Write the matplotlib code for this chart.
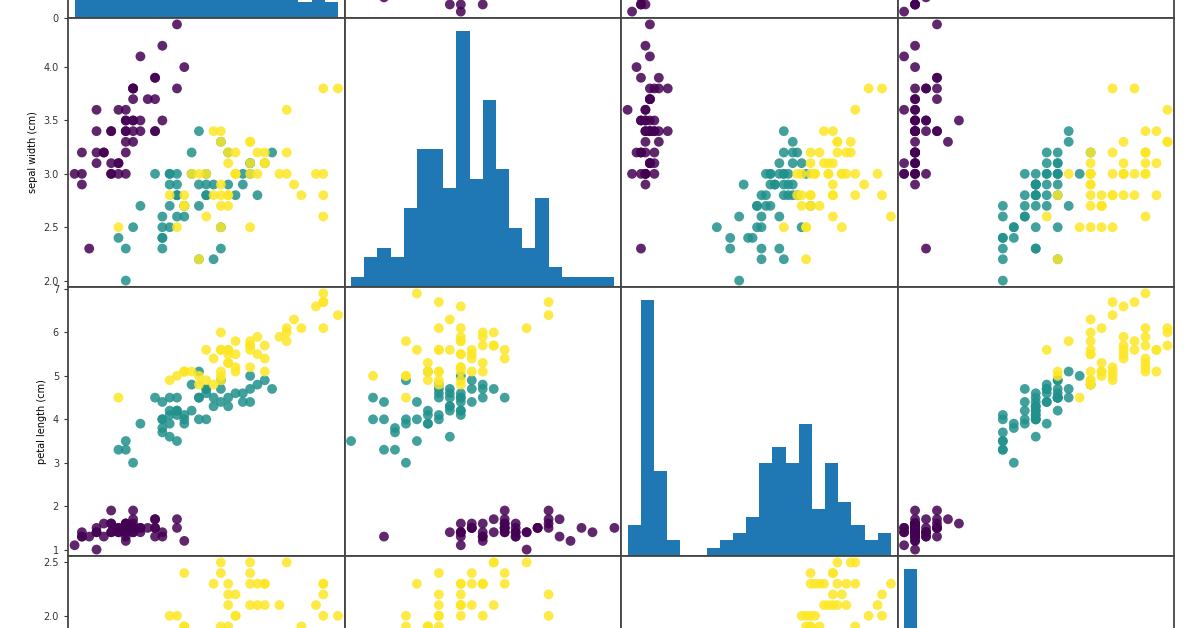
import matplotlib
matplotlib.use("Agg")
import matplotlib.pyplot as plt
import numpy as np

# iris data: setosa, versicolor, virginica (50 each)
sepal_length = [5.1,4.9,4.7,4.6,5.0,5.4,4.6,5.0,4.4,4.9,5.4,4.8,4.8,4.3,5.8,5.7,5.4,5.1,5.7,5.1,5.4,5.1,4.6,5.1,4.8,5.0,5.0,5.2,5.2,4.7,4.8,5.4,5.2,5.5,4.9,5.0,5.5,4.9,4.4,5.1,5.0,4.5,4.4,5.0,5.1,4.8,5.1,4.6,5.3,5.0,
                7.0,6.4,6.9,5.5,6.5,5.7,6.3,4.9,6.6,5.2,5.0,5.9,6.0,6.1,5.6,6.7,5.6,5.8,6.2,5.6,5.9,6.1,6.3,6.1,6.4,6.6,6.8,6.7,6.0,5.7,5.5,5.5,5.8,6.0,5.4,6.0,6.7,6.3,5.6,5.5,5.5,6.1,5.8,5.0,5.6,5.7,5.7,6.2,5.1,5.7,
                6.3,5.8,7.1,6.3,6.5,7.6,4.9,7.3,6.7,7.2,6.5,6.4,6.8,5.7,5.8,6.4,6.5,7.7,7.7,6.0,6.9,5.6,7.7,6.3,6.7,7.2,6.2,6.1,6.4,7.2,7.4,7.9,6.4,6.3,6.1,7.7,6.3,6.4,6.0,6.9,6.7,6.9,5.8,6.8,6.7,6.7,6.3,6.5,6.2,5.9]
sepal_width = [3.5,3.0,3.2,3.1,3.6,3.9,3.4,3.4,2.9,3.1,3.7,3.4,3.0,3.0,4.0,4.4,3.9,3.5,3.8,3.8,3.4,3.7,3.6,3.3,3.4,3.0,3.4,3.5,3.4,3.2,3.1,3.4,4.1,4.2,3.1,3.2,3.5,3.6,3.0,3.4,3.5,2.3,3.2,3.5,3.8,3.0,3.8,3.2,3.7,3.3,
               3.2,3.2,3.1,2.3,2.8,2.8,3.3,2.4,2.9,2.7,2.0,3.0,2.2,2.9,2.9,3.1,3.0,2.7,2.2,2.5,3.2,2.8,2.5,2.8,2.9,3.0,2.8,3.0,2.9,2.6,2.4,2.4,2.7,2.7,3.0,3.4,3.1,2.3,3.0,2.5,2.6,3.0,2.6,2.3,2.7,3.0,2.9,2.9,2.5,2.8,
               3.3,2.7,3.0,2.9,3.0,3.0,2.5,2.9,2.5,3.6,3.2,2.7,3.0,2.5,2.8,3.2,3.0,3.8,2.6,2.2,3.2,2.8,2.8,2.7,3.3,3.2,2.8,3.0,2.8,3.0,2.8,3.8,2.8,2.8,2.6,3.0,3.4,3.1,3.0,3.1,3.1,3.1,2.7,3.2,3.3,3.0,2.5,3.0,3.4,3.0]
petal_length = [1.4,1.4,1.3,1.5,1.4,1.7,1.4,1.5,1.4,1.5,1.5,1.6,1.4,1.1,1.2,1.5,1.3,1.4,1.7,1.5,1.7,1.5,1.0,1.7,1.9,1.6,1.6,1.5,1.4,1.6,1.6,1.5,1.5,1.4,1.5,1.2,1.3,1.4,1.3,1.5,1.3,1.3,1.3,1.6,1.9,1.4,1.6,1.4,1.5,1.4,
                4.7,4.5,4.9,4.0,4.6,4.5,4.7,3.3,4.6,3.9,3.5,4.2,4.0,4.7,3.6,4.4,4.5,4.1,4.5,3.9,4.8,4.0,4.9,4.7,4.3,4.4,4.8,5.0,4.5,3.5,3.8,3.7,3.9,5.1,4.5,4.5,4.7,4.4,4.1,4.0,4.4,4.6,4.0,3.3,4.2,4.2,4.2,4.3,3.0,4.1,
                6.0,5.1,5.9,5.6,5.8,6.6,4.5,6.3,5.8,6.1,5.1,5.3,5.5,5.0,5.1,5.3,5.5,6.7,6.9,5.0,5.7,4.9,6.7,4.9,5.7,6.0,4.8,4.9,5.6,5.8,6.1,6.4,5.6,5.1,5.6,6.1,5.6,5.5,4.8,5.4,5.6,5.1,5.1,5.9,5.7,5.2,5.0,5.2,5.4,5.1]
petal_width = [0.2,0.2,0.2,0.2,0.2,0.4,0.3,0.2,0.2,0.1,0.2,0.2,0.1,0.1,0.2,0.4,0.4,0.3,0.3,0.3,0.2,0.4,0.2,0.5,0.2,0.2,0.4,0.2,0.2,0.2,0.2,0.4,0.1,0.2,0.2,0.2,0.2,0.1,0.2,0.2,0.3,0.3,0.2,0.6,0.4,0.3,0.2,0.2,0.2,0.2,
               1.4,1.5,1.5,1.3,1.5,1.3,1.6,1.0,1.3,1.4,1.0,1.5,1.0,1.4,1.3,1.4,1.5,1.0,1.5,1.1,1.8,1.3,1.5,1.2,1.3,1.4,1.4,1.7,1.5,1.0,1.1,1.0,1.2,1.6,1.5,1.6,1.5,1.3,1.3,1.3,1.2,1.4,1.2,1.0,1.3,1.2,1.3,1.3,1.1,1.3,
               2.5,1.9,2.1,1.8,2.2,2.1,1.7,1.8,1.8,2.5,2.0,1.9,2.1,2.0,2.4,2.3,1.8,2.2,2.3,1.5,2.3,2.0,2.0,1.8,2.1,1.8,1.8,1.8,2.1,1.6,1.9,2.0,2.2,1.5,1.4,2.3,2.4,1.8,1.8,2.1,2.4,2.3,1.9,2.3,2.5,2.3,1.9,2.0,2.3,1.8]
species_counts = [50, 50, 50]
labels = ["sepal length (cm)", "sepal width (cm)", "petal length (cm)", "petal width (cm)"]

cols = [np.array(sepal_length), np.array(sepal_width), np.array(petal_length), np.array(petal_width)]
target = np.repeat(np.arange(3), species_counts)

def rng(v):
    pad = (v.max() - v.min()) * 0.05 / 2
    return v.min() - pad, v.max() + pad

fig = plt.figure(figsize=(11.96, 6.28), dpi=100)
left, cw = 68 / 1196, 276.5 / 1196
ch = 269 / 628
bottoms = [1 - 18 / 628, 1 - 287 / 628, 1 - 556 / 628, 1 - 825 / 628]

for i in range(4):
    for j in range(4):
        ax = fig.add_axes([left + j * cw, bottoms[i], cw, ch])
        if i == j:
            ax.hist(cols[i], bins=20, color="#1f77b4")
        else:
            ax.scatter(cols[j], cols[i], c=target, cmap="viridis", s=50, alpha=0.85, linewidths=0)
            ax.set_ylim(rng(cols[i]))
        ax.set_xlim(rng(cols[j]))
        for s in ax.spines.values():
            s.set_linewidth(1.3)
            s.set_color("#444444")
        ax.tick_params(labelsize=7, colors="#333333", length=3)
        if j == 0:
            ax.set_ylabel(labels[i], fontsize=7)
        else:
            ax.set_yticks([])
        ax.set_xticks([])

fig.savefig("out.png", dpi=100)
